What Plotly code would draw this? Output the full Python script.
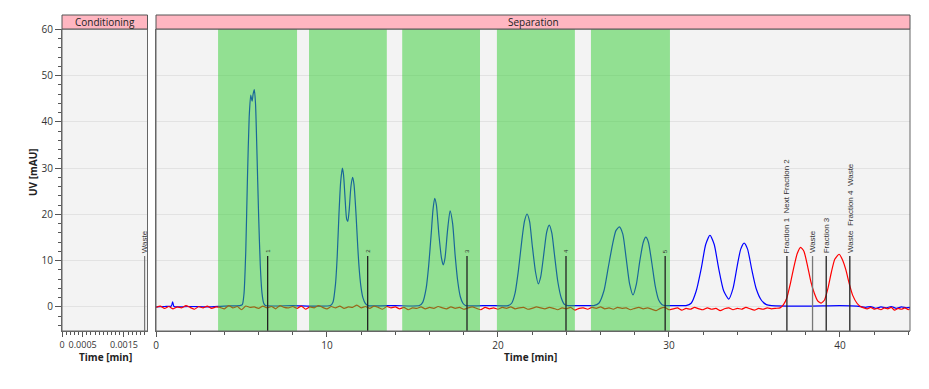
import numpy as np
import plotly.graph_objects as go

# page body has an 8px margin; keep the figure inside the 929x389 window
OFF = 8
W, H = 929 - 2 * OFF, 389 - 2 * OFF

# ---------------- data ----------------
# Blue UV trace (time [min], mAU)
blue_t = [0.0, 0.5, 0.9, 0.97, 1.05, 1.3, 2.0, 3.0, 4.0, 4.9,
          5.05, 5.15, 5.25, 5.35, 5.45, 5.54, 5.62, 5.68, 5.75, 5.82, 5.9, 6.0, 6.1, 6.2, 6.3, 6.4,
          8.0, 10.2,
          10.35, 10.5, 10.6, 10.7, 10.8, 10.9, 10.97, 11.05, 11.15, 11.22, 11.3, 11.4, 11.5, 11.58, 11.7, 11.8, 11.9, 12.0, 12.1, 12.25, 12.4,
          14.0, 15.4,
          15.6, 15.8, 15.95, 16.1, 16.2, 16.3, 16.4, 16.55, 16.7, 16.8, 16.9, 17.05, 17.2, 17.35, 17.5, 17.65, 17.8, 17.95, 18.1,
          19.5, 20.6,
          20.8, 21.0, 21.2, 21.4, 21.55, 21.7, 21.85, 22.0, 22.2, 22.36, 22.5, 22.7, 22.85, 23.0, 23.15, 23.3, 23.5, 23.7, 23.9, 24.1,
          25.0, 25.6,
          25.9, 26.2, 26.45, 26.7, 26.9, 27.1, 27.3, 27.5, 27.7, 27.9, 28.1, 28.3, 28.5, 28.65, 28.8, 29.0, 29.2, 29.4, 29.6, 29.8,
          30.5, 31.0,
          31.3, 31.6, 31.9, 32.15, 32.4, 32.65, 32.9, 33.2, 33.5, 33.75, 34.0, 34.2, 34.4, 34.6, 34.85, 35.1, 35.4, 35.7, 36.0,
          38.0, 40.0, 41.0, 41.5, 41.8, 42.1, 42.4, 42.7, 43.0, 43.3, 43.6, 43.9, 44.1]
blue_v = [0.0, 0.1, 0.2, 1.1, 0.1, 0.0, 0.1, 0.0, 0.2, 0.3,
          0.5, 3.0, 12.0, 28.0, 41.0, 45.8, 44.5, 46.0, 47.0, 44.0, 34.0, 20.0, 9.0, 3.0, 0.8, 0.3,
          0.3, 0.3,
          1.0, 5.0, 11.0, 20.0, 27.0, 30.0, 28.5, 24.0, 19.0, 18.5, 21.0, 26.0, 28.0, 26.5, 20.0, 13.0, 7.5, 4.0, 2.0, 0.7, 0.3,
          0.3, 0.3,
          1.0, 4.0, 9.0, 16.0, 21.0, 23.5, 22.0, 15.5, 10.5, 9.1, 10.5, 16.5, 20.8, 18.0, 11.0, 5.5, 2.2, 0.8, 0.3,
          0.3, 0.3,
          0.8, 3.0, 8.0, 14.5, 18.5, 20.1, 18.5, 13.5, 7.5, 5.0, 6.5, 12.0, 16.2, 17.7, 16.0, 11.5, 5.5, 2.0, 0.5, 0.3,
          0.3, 0.3,
          0.8, 3.5, 8.5, 13.5, 16.5, 17.3, 15.8, 10.5, 5.0, 2.6, 5.0, 10.0, 14.0, 15.1, 14.0, 9.5, 4.5, 1.5, 0.5, 0.3,
          0.3, 0.3,
          0.8, 3.5, 8.5, 13.5, 15.5, 13.5, 8.5, 3.5, 1.7, 4.0, 9.0, 12.5, 13.8, 12.5, 8.0, 4.0, 1.5, 0.5, 0.3,
          0.2, 0.3, 0.2, -0.1, 0.1, -0.3, 0.0, -0.2, 0.1, -0.3, 0.0, -0.2, -0.1]

# Red UV trace: baseline samples every 0.25 min from 0 to 36.5
red_base_start, red_base_step = 0.0, 0.25
red_base_v = [-0.1, 0.2, -0.3, 0.1, -0.4, 0.0, -0.2, 0.3, -0.1, -0.5, 0.1, -0.2, 0.2, -0.3, 0.0, -0.1,
              -0.4, 0.3, -0.2, 0.1, -0.6, 0.2, -0.1, 0.0, -0.3, 0.2, -0.2, 0.1, -0.4, 0.3, -0.1, -0.2,
              0.1, -0.3, 0.2, -0.5, 0.0, -0.2, 0.3, -0.1, -0.4, 0.1, -0.2, 0.2, -0.3, 0.0, -0.1, 0.4,
              -0.2, 0.1, -0.3, 0.2, -0.1, -0.5, 0.1, -0.2, 0.0, -0.4, -0.1, -0.6, -0.2, -0.3, 0.0, -0.4,
              -0.1, -0.3, 0.1, -0.2, -0.4, 0.0, -0.3, -0.1, -0.5, -0.2, 0.0, -0.3, -0.6, -0.1, -0.4, -0.2,
              -0.5, -0.1, -0.3, 0.0, -0.4, -0.2, -0.1, -0.5, -0.3, 0.0, -0.2, -0.4, -0.1, -0.3, -0.6, -0.2,
              -0.4, -0.1, -0.7, -0.3, -0.2, -0.5, -0.1, -0.3, 0.0, -0.4, -0.2, -0.5, -0.1, -0.3, -0.2, -0.6,
              -0.3, -0.1, -0.4, -0.2, -0.5, -0.8, -0.3, -0.1, -0.6, -0.4, -0.2, -0.7, -0.3, -0.5, -0.1, -0.4,
              -0.6, -0.2, -0.5, -0.3, -0.8, -0.4, -0.2, -0.6, -0.3, -0.5, -0.1, -0.4, -0.7, -0.3, -0.5, -0.2,
              -0.4, -0.3, -0.2]
red_peak_t = [36.7, 36.9, 37.1, 37.3, 37.5, 37.7, 37.9, 38.1, 38.3, 38.5, 38.7, 38.9, 39.1, 39.3, 39.5, 39.7,
              39.95, 40.15, 40.35, 40.55, 40.75, 41.0, 41.2,
              41.4, 41.6, 41.8, 42.0, 42.2, 42.4, 42.6, 42.8, 43.0, 43.2, 43.4, 43.6, 43.8, 44.0, 44.1]
red_peak_v = [0.5, 2.0, 5.0, 8.5, 11.5, 12.9, 12.0, 9.0, 5.5, 3.0, 1.3, 0.8, 1.5, 4.0, 7.5, 10.3,
              11.4, 10.2, 8.0, 5.0, 2.5, 0.8, 0.1,
              -0.2, -0.4, -0.1, -0.5, -0.3, -0.6, -0.2, -0.4, -0.1, -0.7, -0.3, -0.5, -0.2, -0.6, -0.3]

# Fraction collection windows (green) [start, end] min
frac_start = [3.63, 8.95, 14.4, 19.94, 25.44]
frac_end = [8.25, 13.5, 18.95, 24.5, 30.06]

# Event markers
event_t = [6.53, 12.38, 18.19, 23.98, 29.78, 36.9, 38.4, 39.2, 40.58]
event_label = ["1", "2", "3", "4", "5", "Fraction 1  Next Fraction 2", "Waste", "Fraction 3",
               "Waste  Fraction 4  Waste"]
event_color = ["#222222"] * 6 + ["#777777", "#222222", "#222222"]
event_top = 11.0
cond_event_t = 0.002
cond_event_label = "Waste"

YMIN, YMAX = -5.2, 60.1

# ---------------- figure ----------------
red_t = [red_base_start + i * red_base_step for i in range(len(red_base_v))] + red_peak_t
red_v = red_base_v + red_peak_v

def px(x):
    return (x - OFF) / W

def py(y):
    return 1 - (y - OFF) / H

xl0, xl1 = px(62), px(147.5)
xm0, xm1 = px(156), px(910)
yb, yt = py(331), py(29)
yh = py(15)

fig = go.Figure()
fig.add_trace(go.Scatter(x=blue_t, y=blue_v, mode="lines", xaxis="x2", yaxis="y2",
                         line=dict(color="#0000ff", width=1.2, shape="spline", smoothing=0.6),
                         showlegend=False, hoverinfo="skip"))
fig.add_trace(go.Scatter(x=red_t, y=red_v, mode="lines", xaxis="x2", yaxis="y2",
                         line=dict(color="#ff0000", width=1.2, shape="spline", smoothing=0.5),
                         showlegend=False, hoverinfo="skip"))
fig.add_trace(go.Scatter(x=[0], y=[0], mode="lines", xaxis="x", yaxis="y",
                         line=dict(color="#ff0000", width=1), showlegend=False, hoverinfo="skip"))

shapes = []
for s, e in zip(frac_start, frac_end):
    shapes.append(dict(type="rect", xref="x2", yref="y2", x0=s, x1=e, y0=YMIN, y1=YMAX,
                       fillcolor="rgba(50,205,50,0.5)", line=dict(width=0), layer="above"))
annotations = []
for t, lab, col in zip(event_t, event_label, event_color):
    shapes.append(dict(type="line", xref="x2", yref="y2", x0=t, x1=t, y0=YMIN, y1=event_top,
                       line=dict(color=col, width=1.3), layer="above"))
    annotations.append(dict(x=t, y=event_top, xref="x2", yref="y2", text=lab, showarrow=False,
                            textangle=-90, xanchor="center", yanchor="bottom", yshift=1,
                            font=dict(size=8 if len(lab) > 1 else 6, color="#333333",
                                      family="Liberation Sans")))
shapes.append(dict(type="line", xref="x", yref="y", x0=cond_event_t, x1=cond_event_t, y0=YMIN,
                   y1=event_top, line=dict(color="#777777", width=1.2), layer="above"))
annotations.append(dict(x=cond_event_t, y=event_top, xref="x", yref="y", text=cond_event_label,
                        showarrow=False, textangle=-90, xanchor="center", yanchor="bottom", yshift=1,
                        font=dict(size=8, color="#333333", family="Liberation Sans")))

for x0, x1, title in [(xl0, xl1, "Conditioning"), (xm0, xm1, "Separation")]:
    shapes.append(dict(type="rect", xref="paper", yref="paper", x0=x0, x1=x1, y0=yb, y1=yt,
                       line=dict(color="#666666", width=1), fillcolor="rgba(0,0,0,0)", layer="above"))
    shapes.append(dict(type="rect", xref="paper", yref="paper", x0=x0, x1=x1, y0=yt, y1=yh,
                       line=dict(color="#555555", width=1), fillcolor="#ffb6c1", layer="above"))
    annotations.append(dict(x=(x0 + x1) / 2, y=(yt + yh) / 2, xref="paper", yref="paper",
                            text=title, showarrow=False, xanchor="center", yanchor="middle",
                            font=dict(size=10, color="#222222", family="Open Sans")))

annotations.append(dict(x=px(33), y=py(172), xref="paper", yref="paper", text="<b>UV [mAU]</b>",
                        showarrow=False, textangle=-90, xanchor="center", yanchor="middle",
                        font=dict(size=10, color="#222222", family="Open Sans")))
for cx in (105, 530):
    annotations.append(dict(x=px(cx), y=py(357), xref="paper", yref="paper",
                            text="<b>Time [min]</b>", showarrow=False, xanchor="center",
                            yanchor="middle",
                            font=dict(size=10, color="#222222", family="Open Sans")))

tickfont = dict(size=10, color="#333333", family="Open Sans")
fig.update_layout(
    width=W, height=H, margin=dict(l=0, r=0, t=0, b=0, autoexpand=False),
    paper_bgcolor="white", plot_bgcolor="#f3f3f3",
    showlegend=False,
    xaxis=dict(domain=[xl0, xl1], range=[0, 0.00207], tickvals=[0, 0.0005, 0.0015],
               ticktext=["0", "0.0005", "0.0015"], ticks="outside", ticklen=5, tickcolor="#555",
               minor=dict(dtick=0.0001, ticks="outside", ticklen=3, tickcolor="#555"),
               showgrid=False, zeroline=False, showline=True, linecolor="#666",
               tickfont=dict(size=9, color="#333333", family="Open Sans"), tickangle=0,
               automargin=False, anchor="y", fixedrange=True),
    yaxis=dict(domain=[yb, yt], range=[YMIN, YMAX], tickvals=[0, 10, 20, 30, 40, 50, 60],
               ticks="outside", ticklen=6, tickcolor="#555",
               minor=dict(dtick=2, ticks="outside", ticklen=3, tickcolor="#555", showgrid=False),
               showgrid=True, gridcolor="#e2e2e2", zeroline=False, showline=True, linecolor="#666",
               tickfont=tickfont, automargin=False, anchor="x"),
    xaxis2=dict(domain=[xm0, xm1], range=[0, 44.1], tickvals=[0, 10, 20, 30, 40], ticks="outside",
                ticklen=5, tickcolor="#555",
                minor=dict(dtick=2, ticks="outside", ticklen=3, tickcolor="#555"),
                showgrid=False, zeroline=False, showline=True, linecolor="#666", tickfont=tickfont,
                tickangle=0, automargin=False, anchor="y2"),
    yaxis2=dict(domain=[yb, yt], range=[YMIN, YMAX], tickvals=[0, 10, 20, 30, 40, 50, 60],
                showticklabels=False, ticks="", showgrid=True, gridcolor="#e2e2e2",
                zeroline=False, showline=True, linecolor="#666", automargin=False, anchor="x2"),
    shapes=shapes, annotations=annotations,
)

fig.write_html("out.html")
